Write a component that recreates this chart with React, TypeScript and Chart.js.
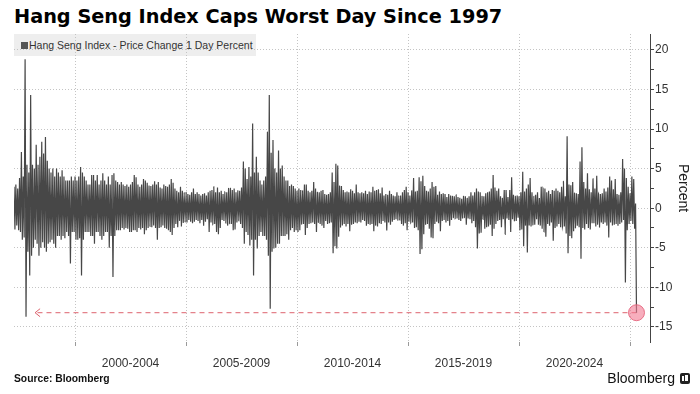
import React, { useEffect, useRef } from "react";
import { Chart, registerables } from "chart.js";

Chart.register(...registerables);

// First month of data: April 1997 (0-based month index 3)
const FIRST_YEAR = 1997;
const FIRST_MONTH = 3;

// Highest 1-day % change in each month
const monthlyHigh: number[] = [
  /*1997 Apr-Dec*/ 2.7, 3.0, 2.5, 3.8, 7.1, 4.0, 18.8, 5.5, 4.5,
  /*1998*/ 14.3, 5.5, 5.0, 8.0, 5.5, 6.5, 8.4, 6.9, 9.0, 6.0, 5.0, 4.5,
  /*1999*/ 5.0, 4.0, 5.0, 4.5, 4.0, 4.8, 4.0, 3.5, 3.5, 3.5, 4.0, 3.5,
  /*2000*/ 4.0, 3.5, 4.0, 5.2, 4.5, 4.0, 3.5, 3.0, 3.0, 4.2, 4.2, 3.5,
  /*2001*/ 4.2, 3.0, 3.5, 4.4, 3.5, 3.0, 4.0, 3.0, 4.2, 4.4, 3.5, 3.3,
  /*2002*/ 3.0, 3.3, 3.0, 2.8, 3.0, 2.7, 3.0, 3.3, 4.2, 3.9, 3.0, 2.7,
  /*2003*/ 3.0, 3.7, 3.5, 3.2, 2.8, 2.8, 3.0, 3.4, 3.0, 3.3, 2.6, 2.5,
  /*2004*/ 3.0, 2.8, 2.7, 3.0, 3.7, 3.2, 2.5, 2.2, 2.0, 2.7, 2.2, 2.0,
  /*2005*/ 2.0, 1.8, 1.7, 2.0, 2.5, 1.8, 2.0, 1.8, 1.6, 1.8, 1.9, 1.6,
  /*2006*/ 2.0, 2.2, 2.3, 2.7, 2.0, 2.6, 2.0, 2.2, 1.8, 2.0, 2.0, 2.5,
  /*2007*/ 2.5, 2.3, 2.5, 2.0, 2.2, 2.2, 2.6, 5.9, 5.0, 3.7, 5.2, 4.0,
  /*2008*/ 10.7, 4.5, 6.5, 4.5, 3.5, 3.0, 3.5, 4.0, 9.6, 14.3, 7.0, 8.6,
  /*2009*/ 5.0, 4.5, 7.3, 5.0, 5.4, 4.0, 3.5, 3.5, 2.8, 3.0, 2.8, 2.5,
  /*2010*/ 2.2, 2.5, 2.3, 2.2, 3.0, 3.0, 2.2, 2.0, 2.2, 3.3, 2.5, 2.0,
  /*2011*/ 2.0, 2.2, 2.3, 1.8, 1.7, 1.8, 2.0, 4.5, 3.3, 5.6, 5.4, 2.8,
  /*2012*/ 2.8, 2.3, 2.0, 2.1, 2.0, 2.4, 2.2, 1.9, 3.0, 2.0, 1.9, 2.0,
  /*2013*/ 1.9, 2.2, 1.8, 2.1, 2.0, 2.7, 2.2, 2.3, 2.4, 1.9, 2.6, 1.6,
  /*2014*/ 1.8, 1.7, 2.2, 1.8, 1.6, 1.5, 2.0, 1.6, 1.6, 2.0, 2.3, 2.7,
  /*2015*/ 2.0, 1.6, 2.2, 3.8, 2.1, 2.2, 3.9, 3.4, 4.1, 2.8, 2.2, 2.1,
  /*2016*/ 2.5, 3.3, 2.7, 2.8, 1.7, 2.1, 1.8, 1.9, 1.8, 1.4, 1.8, 1.6,
  /*2017*/ 1.5, 1.5, 1.7, 1.4, 1.3, 1.2, 1.5, 1.5, 1.3, 1.5, 2.0, 1.6,
  /*2018*/ 2.0, 2.5, 2.1, 2.0, 1.5, 1.5, 1.9, 2.0, 2.1, 2.5, 4.2, 2.6,
  /*2019*/ 2.2, 2.5, 1.5, 1.3, 2.3, 2.3, 1.4, 2.3, 3.9, 1.7, 1.5, 1.6,
  /*2020*/ 1.5, 2.0, 4.6, 2.1, 2.5, 3.0, 3.8, 2.0, 1.5, 1.7, 2.0, 1.3,
  /*2021*/ 2.7, 2.5, 2.5, 2.0, 2.2, 1.8, 2.3, 2.2, 2.5, 2.2, 2.0, 2.7,
  /*2022*/ 3.4, 1.5, 9.1, 3.0, 2.9, 3.3, 1.9, 1.9, 1.8, 5.9, 7.7, 3.3,
  /*2023*/ 2.5, 4.4, 2.4, 2.0, 3.7, 2.5, 4.1, 1.8, 1.8, 1.9, 2.5, 2.1,
  /*2024*/ 2.6, 4.0, 3.5, 2.4, 3.7, 1.8, 1.7, 2.0, 6.2, 5.0, 3.8, 2.7,
  /*2025 Jan-Apr*/ 1.9, 4.0, 3.7, 0.6,
];

// Lowest 1-day % change in each month
const monthlyLow: number[] = [
  /*1997 Apr-Dec*/ -2.7, -2.2, -2.8, -3.0, -4.0, -3.7, -13.7, -5.5, -8.5,
  /*1998*/ -6.0, -5.0, -4.0, -4.5, -6.0, -5.0, -4.3, -5.0, -5.5, -4.5, -4.3, -4.0,
  /*1999*/ -4.5, -5.0, -3.5, -3.5, -4.0, -3.5, -3.8, -3.0, -3.5, -7.0, -3.0, -3.0,
  /*2000*/ -4.0, -4.0, -3.8, -8.5, -4.0, -3.0, -3.0, -3.0, -3.5, -3.5, -4.5, -3.0,
  /*2001*/ -3.0, -3.5, -4.0, -3.5, -3.0, -3.0, -5.0, -3.5, -8.7, -3.5, -2.8, -2.8,
  /*2002*/ -2.8, -2.5, -2.7, -2.5, -2.6, -3.0, -3.0, -2.8, -2.8, -3.0, -2.5, -2.7,
  /*2003*/ -2.5, -3.3, -2.8, -2.5, -2.3, -2.4, -2.2, -2.5, -4.0, -2.5, -2.4, -2.2,
  /*2004*/ -2.5, -2.6, -2.8, -3.0, -3.4, -2.5, -2.0, -2.4, -1.6, -2.3, -1.8, -1.8,
  /*2005*/ -1.8, -1.5, -1.7, -1.9, -1.7, -1.5, -1.6, -1.9, -1.5, -2.2, -1.7, -1.4,
  /*2006*/ -3.0, -1.8, -2.0, -2.0, -3.0, -3.3, -2.5, -1.5, -1.6, -1.9, -2.2, -2.0,
  /*2007*/ -2.0, -2.8, -2.7, -1.8, -1.6, -2.0, -2.5, -4.5, -3.0, -3.4, -4.7, -4.0,
  /*2008*/ -8.5, -4.0, -5.1, -3.5, -3.0, -3.5, -3.5, -4.0, -6.0, -12.7, -5.5, -5.1,
  /*2009*/ -5.0, -4.5, -4.5, -3.5, -3.5, -3.5, -3.3, -4.0, -2.8, -2.5, -3.0, -2.8,
  /*2010*/ -3.0, -2.8, -2.0, -2.0, -3.4, -2.5, -2.0, -1.9, -1.8, -2.0, -3.0, -1.8,
  /*2011*/ -2.0, -2.2, -2.5, -1.6, -2.0, -1.9, -1.8, -5.7, -4.8, -5.1, -3.6, -2.4,
  /*2012*/ -2.2, -2.0, -2.3, -2.0, -2.9, -2.1, -2.0, -1.8, -1.9, -1.7, -1.8, -1.5,
  /*2013*/ -1.6, -2.2, -2.0, -2.1, -2.0, -2.9, -2.2, -2.3, -1.9, -2.0, -1.6, -1.8,
  /*2014*/ -2.8, -1.8, -2.1, -1.7, -1.5, -1.4, -1.5, -1.5, -2.0, -2.2, -1.9, -2.8,
  /*2015*/ -1.7, -1.8, -1.8, -2.5, -2.4, -2.8, -5.8, -5.2, -3.3, -2.1, -2.0, -2.6,
  /*2016*/ -3.7, -3.8, -2.0, -1.7, -1.9, -2.9, -1.6, -1.5, -1.8, -1.6, -2.2, -1.5,
  /*2017*/ -1.2, -1.3, -1.3, -1.5, -1.6, -1.3, -1.2, -2.1, -1.3, -1.4, -1.9, -1.6,
  /*2018*/ -2.4, -5.1, -3.2, -3.1, -1.4, -2.6, -2.4, -2.3, -2.1, -3.5, -2.6, -2.0,
  /*2019*/ -1.6, -1.5, -2.4, -1.4, -3.3, -1.3, -1.5, -3.0, -1.4, -1.6, -1.6, -1.2,
  /*2020*/ -2.8, -2.7, -4.8, -2.2, -5.6, -2.2, -2.3, -2.1, -2.1, -1.4, -2.1, -2.2,
  /*2021*/ -2.6, -3.0, -3.6, -2.0, -2.2, -1.8, -4.1, -2.5, -2.3, -2.0, -2.4, -2.3,
  /*2022*/ -2.3, -3.2, -5.7, -3.5, -3.8, -2.9, -2.5, -2.2, -2.4, -6.4, -2.5, -2.7,
  /*2023*/ -2.0, -2.5, -2.7, -1.9, -1.9, -2.3, -2.1, -2.4, -1.8, -2.0, -1.8, -2.2,
  /*2024*/ -3.7, -1.8, -2.2, -2.1, -2.0, -2.2, -2.0, -1.8, -1.5, -9.4, -2.8, -2.0,
  /*2025 Jan-Apr*/ -1.6, -2.0, -2.6, -13.2,
];

// Axis content
const xGridYears = [2000, 2005, 2010, 2015, 2020, 2025];
const xPeriodLabels = ["2000-2004", "2005-2009", "2010-2014", "2015-2019", "2020-2024"];
const xPeriodCenters = [2002.5, 2007.5, 2012.5, 2017.5, 2022.5];
const yLabelValues = [-15, -10, -5, 0, 5, 10, 15, 20];
const yMinorValues = [-12.5, -7.5, -2.5, 2.5, 7.5, 12.5, 17.5];
const X_MIN = 1997.25;
const X_MAX = 2025.9;
const Y_MIN = -16.9;
const Y_MAX = 22;
// The dashed arrow points back toward the 1997 low
const compareYear = 1998.2;

const seriesLabel = "Hang Seng Index - Price Change 1 Day Percent";

function buildSeries() {
  const pts: { x: number; y: number }[] = [];
  monthlyHigh.forEach((h, i) => {
    const t = FIRST_YEAR + (FIRST_MONTH + i) / 12;
    pts.push({ x: t, y: h });
    pts.push({ x: t + 0.5 / 12, y: monthlyLow[i] });
  });
  return pts;
}

const AXIS_FONT = "'Liberation Sans', Arial, sans-serif";

export default function App() {
  const canvasRef = useRef<HTMLCanvasElement | null>(null);

  useEffect(() => {
    const canvas = canvasRef.current;
    if (!canvas) return;
    const series = buildSeries();
    const crash = series[series.length - 1];

    const arrowPlugin = {
      id: "compareArrow",
      beforeDatasetsDraw(chart: any) {
        const { ctx, scales } = chart;
        const xs = scales.x;
        const ys = scales.y;
        const x1 = xs.getPixelForValue(crash.x);
        const x0 = xs.getPixelForValue(compareYear);
        const py = ys.getPixelForValue(crash.y);
        ctx.save();
        ctx.strokeStyle = "rgba(214,70,84,0.85)";
        ctx.lineWidth = 1;
        ctx.setLineDash([5, 4]);
        ctx.beginPath();
        ctx.moveTo(x1, py);
        ctx.lineTo(x0, py);
        ctx.stroke();
        ctx.setLineDash([]);
        ctx.beginPath();
        ctx.moveTo(x0 + 5, py - 4);
        ctx.lineTo(x0, py);
        ctx.lineTo(x0 + 5, py + 4);
        ctx.stroke();
        ctx.restore();
      },
    };

    const chart = new Chart(canvas, {
      type: "line",
      data: {
        datasets: [
          {
            label: "Latest",
            data: [crash],
            showLine: false,
            pointRadius: 8,
            pointBackgroundColor: "rgba(242,120,145,0.6)",
            pointBorderColor: "rgba(228,95,120,0.85)",
            pointBorderWidth: 1,
          },
          {
            label: seriesLabel,
            data: series,
            borderColor: "#474747",
            borderWidth: 1.2,
            pointRadius: 0,
            // tiny tension keeps segments straight but avoids the pixel-collapsing fast path
            tension: 0.0001,
            fill: false,
          },
        ],
      },
      options: {
        animation: false,
        responsive: false,
        layout: { padding: { left: 14, top: 34, right: 0, bottom: 22 } },
        plugins: { legend: { display: false }, tooltip: { enabled: false } },
        scales: {
          x: {
            type: "linear",
            min: X_MIN,
            max: X_MAX,
            afterBuildTicks: (scale: any) => {
              const vals = [...xGridYears, ...xPeriodCenters].sort((a, b) => a - b);
              scale.ticks = vals.map((v) => ({ value: v }));
            },
            afterFit: (scale: any) => {
              scale.height = 30;
            },
            border: { display: false, dash: [1, 2] },
            grid: {
              color: (c: any) =>
                c.tick && xGridYears.includes(c.tick.value) ? "#c4c4c4" : "rgba(0,0,0,0)",
              tickColor: (c: any) =>
                c.tick && xGridYears.includes(c.tick.value) ? "#9a9a9a" : "rgba(0,0,0,0)",
              tickLength: 4,
              lineWidth: 1,
            },
            ticks: {
              autoSkip: false,
              maxRotation: 0,
              padding: 10,
              color: "#333",
              font: { family: AXIS_FONT, size: 12 },
              callback: (v: any) => {
                const i = xPeriodCenters.indexOf(Number(v));
                return i >= 0 ? xPeriodLabels[i] : "";
              },
            },
          },
          y: {
            type: "linear",
            position: "right",
            min: Y_MIN,
            max: Y_MAX,
            afterBuildTicks: (scale: any) => {
              const vals = [...yLabelValues, ...yMinorValues].sort((a, b) => a - b);
              scale.ticks = vals.map((v) => ({ value: v }));
            },
            afterFit: (scale: any) => {
              scale.width = 50;
            },
            border: { display: true, color: "#444", width: 1, dash: [1, 2] },
            grid: {
              color: (c: any) =>
                c.tick && yLabelValues.includes(c.tick.value) ? "#c4c4c4" : "rgba(0,0,0,0)",
              tickColor: "#444",
              tickLength: 4,
              lineWidth: 1,
            },
            ticks: {
              padding: 1,
              color: "#333",
              font: { family: AXIS_FONT, size: 12 },
              callback: (v: any) => (yLabelValues.includes(Number(v)) ? String(v) : ""),
            },
            title: {
              display: true,
              text: "Percent",
              color: "#222",
              font: { family: AXIS_FONT, size: 14 },
              padding: { top: 9, bottom: 0 },
            },
          },
        },
      },
      plugins: [arrowPlugin],
    } as any);

    return () => chart.destroy();
  }, []);

  return (
    <div
      style={{
        position: "fixed",
        left: 0,
        top: 0,
        width: 700,
        height: 394,
        background: "#fff",
        overflow: "hidden",
        fontFamily: AXIS_FONT,
      }}
    >
      <div
        style={{
          position: "absolute",
          left: 14,
          top: 5,
          fontFamily: "'DejaVu Sans', sans-serif",
          fontWeight: 700,
          fontSize: 19.3,
          lineHeight: "24px",
          color: "#000",
          whiteSpace: "nowrap",
        }}
      >
        Hang Seng Index Caps Worst Day Since 1997
      </div>
      <div
        style={{
          position: "absolute",
          left: 14,
          top: 34,
          width: 242,
          height: 22,
          background: "#eeeeee",
          zIndex: 0,
        }}
      >
        <div
          style={{
            position: "absolute",
            left: 7,
            top: 8,
            width: 7,
            height: 7,
            background: "#555",
          }}
        />
        <div
          style={{
            position: "absolute",
            left: 15,
            top: 4,
            fontSize: 10.5,
            lineHeight: "14px",
            color: "#333",
            whiteSpace: "nowrap",
          }}
        >
          {seriesLabel}
        </div>
      </div>
      <canvas
        ref={canvasRef}
        width={700}
        height={394}
        style={{ position: "absolute", left: 0, top: 0, width: 700, height: 394, zIndex: 1 }}
      />
      <div
        style={{
          position: "absolute",
          left: 14,
          top: 372,
          fontWeight: 700,
          fontSize: 10.3,
          lineHeight: "14px",
          color: "#111",
          whiteSpace: "nowrap",
          zIndex: 2,
        }}
      >
        Source: Bloomberg
      </div>
      <div
        style={{
          position: "absolute",
          right: 25,
          top: 369,
          fontSize: 14,
          lineHeight: "18px",
          color: "#111",
          whiteSpace: "nowrap",
          zIndex: 2,
        }}
      >
        Bloomberg
      </div>
      <div
        style={{
          position: "absolute",
          left: 680,
          top: 373,
          width: 10,
          height: 11,
          borderRadius: 2,
          background: "#222",
          zIndex: 2,
        }}
      >
        <div style={{ position: "absolute", left: 2, top: 3, width: 2, height: 5, background: "#fff" }} />
        <div style={{ position: "absolute", left: 5, top: 2, width: 3, height: 6, background: "#fff" }} />
      </div>
    </div>
  );
}
